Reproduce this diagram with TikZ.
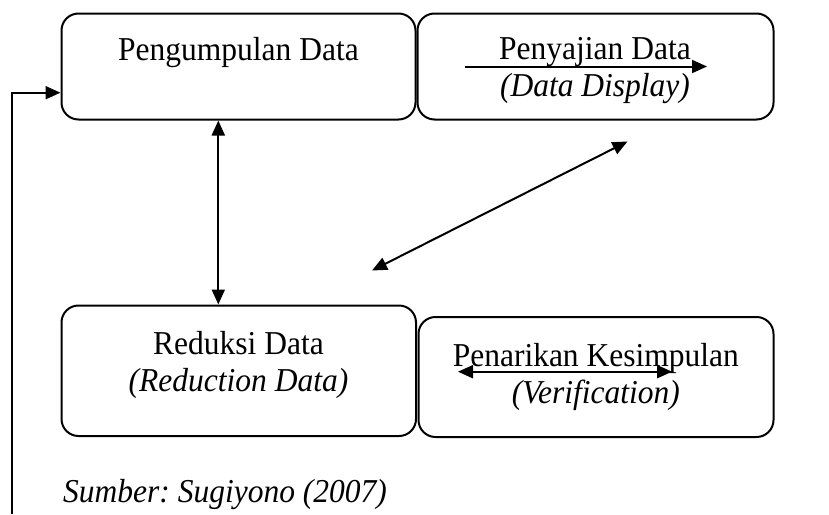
\documentclass[tikz,border=0pt]{standalone}
\usepackage{fontspec}
\usepackage{graphicx}
\setmainfont{Liberation Serif}
\usetikzlibrary{arrows.meta}
\frenchspacing
\newcommand\vstretch[1]{\scalebox{1}[1.06]{#1}}
\begin{document}
\begin{tikzpicture}[x=1pt,y=-1pt,
  box/.style={draw, line width=2pt, rounded corners=17pt, inner sep=0pt},
  lbl/.style={font=\fontsize{31.5}{36}\selectfont, inner sep=0pt, anchor=base},
  arr/.style={line width=2pt, -{Triangle[length=15pt,width=13pt]}},
  dbl/.style={line width=2pt, {Triangle[length=15pt,width=13pt]}-{Triangle[length=15pt,width=13pt]}}]
\useasboundingbox (0,0) rectangle (829,514);
% boxes
\node[box, minimum width=354pt, minimum height=106pt] (A) at (238.5,66.5) {};
\node[box, minimum width=356pt, minimum height=106pt] (B) at (595.5,66.5) {};
\node[box, minimum width=354.5pt, minimum height=130.5pt] (C) at (238.75,370.75) {};
\node[box, minimum width=355pt, minimum height=120pt] (D) at (596,377) {};
% texts
\node[lbl] (tA) at (238.5,60) {\vstretch{Pengumpulan Data}};
\node[lbl] (tB1) at (595,59) {\vstretch{Penyajian Data}};
\node[lbl] (tB2) at (595,96) {\vstretch{\itshape (Data Display)}};
\node[lbl] (tC1) at (238.5,354) {\vstretch{Reduksi Data}};
\node[lbl] (tC2) at (238.5,391) {\vstretch{\itshape (Reduction Data)}};
\node[lbl] (tD1) at (595.8,366) {\vstretch{Penarikan Kesimpulan}};
\node[lbl] (tD2) at (595.8,403) {\vstretch{\itshape (Verification)}};
\node[lbl, anchor=base west] (src) at (63,502) {\vstretch{\itshape Sumber: Sugiyono (2007)}};
% arrows
\coordinate (b1) at (465,66.5);
\coordinate (b2) at (707,66.5);
\draw[arr] (b1) -- (b2);
\coordinate (d1) at (458,371.7);
\coordinate (d2) at (672,371.7);
\draw[dbl] (d1) -- (d2);
\draw[dbl] ([xshift=-20.2pt]A.south) -- ([xshift=-20.45pt]C.north);
\coordinate (g1) at (372,270.5);
\coordinate (g2) at (627.5,141.5);
\draw[dbl] (g1) -- (g2);
\coordinate (fb) at (11.5,514);
\draw[arr] (fb) |- ([yshift=-26.2pt]A.west);
\end{tikzpicture}
\end{document}
